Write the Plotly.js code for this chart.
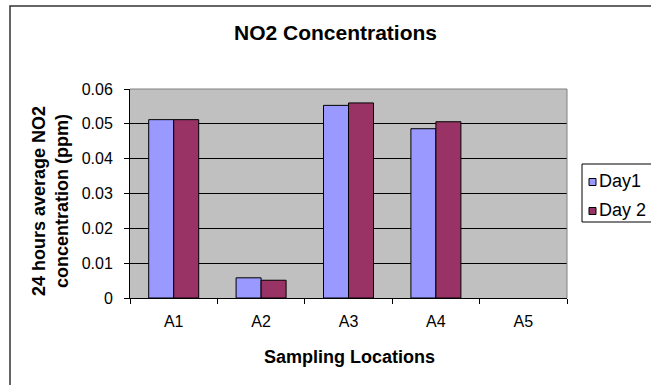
<!DOCTYPE html>
<html>
<head>
<meta charset="utf-8">
<script src="https://cdn.plot.ly/plotly-3.0.1.min.js"></script>
<style>
  html, body { margin: 0; padding: 0; background: #ffffff; }
  #chart { width: 651px; height: 385px; }
</style>
</head>
<body>
<div id="chart"></div>
<script>
// ---- data ----
const categories = ["A1", "A2", "A3", "A4", "A5"];
const day1Values = [0.0512, 0.0058, 0.0553, 0.0486, null];
const day2Values = [0.0512, 0.0051, 0.0560, 0.0506, null];
const seriesNames = ["Day1", "Day 2"];
const yTickVals = [0, 0.01, 0.02, 0.03, 0.04, 0.05, 0.06];
const yTickText = ["0", "0.01", "0.02", "0.03", "0.04", "0.05", "0.06"];

const chartTitle = "NO2 Concentrations";
const xTitle = "Sampling Locations";
const yTitle = "24 hours average NO2<br>concentration (ppm)";

// ---- styles ----
const colors = ["#9999FF", "#993366"];
const FONT = "Liberation Sans, Arial, Helvetica, sans-serif";

// plot area geometry (pixels)
const W = 651, H = 385;
const L = 130, R = 567, T = 89, B = 298;
const px = x => (x - L) / (R - L);
const py = y => (B - y) / (B - T);

const traces = [
  {
    type: "bar", name: seriesNames[0], x: categories, y: day1Values,
    marker: { color: colors[0], line: { color: "#000000", width: 1 } },
    showlegend: false, hoverinfo: "x+y"
  },
  {
    type: "bar", name: seriesNames[1], x: categories, y: day2Values,
    marker: { color: colors[1], line: { color: "#000000", width: 1 } },
    showlegend: false, hoverinfo: "x+y"
  }
];

const shapes = [
  // outer chart frame (cropped on right and bottom)
  { type: "rect", xref: "paper", yref: "paper",
    x0: px(10), x1: px(720), y0: py(6), y1: py(430),
    line: { color: "#333333", width: 1.5 }, fillcolor: "rgba(0,0,0,0)", layer: "above" },
  // gray plot border: top and right
  { type: "line", xref: "paper", yref: "paper", x0: 0, x1: 1, y0: 1, y1: 1,
    line: { color: "#808080", width: 1 }, layer: "above" },
  { type: "line", xref: "paper", yref: "paper", x0: 1, x1: 1, y0: 0, y1: 1,
    line: { color: "#808080", width: 1 }, layer: "above" },
  // legend box
  { type: "rect", xref: "paper", yref: "paper",
    x0: px(582), x1: px(700), y0: py(164), y1: py(222),
    line: { color: "#000000", width: 1 }, fillcolor: "#ffffff", layer: "above" },
  // legend swatches
  { type: "rect", xref: "paper", yref: "paper",
    x0: px(589), x1: px(596), y0: py(178.5), y1: py(185.5),
    line: { color: "#000000", width: 1 }, fillcolor: colors[0], layer: "above" },
  { type: "rect", xref: "paper", yref: "paper",
    x0: px(589), x1: px(596), y0: py(207.5), y1: py(214.5),
    line: { color: "#000000", width: 1 }, fillcolor: colors[1], layer: "above" }
];

const annotations = [
  { text: "<b>" + chartTitle + "</b>", xref: "paper", yref: "paper",
    x: px(335), y: py(33), xanchor: "center", yanchor: "middle", showarrow: false,
    font: { family: FONT, size: 21, color: "#000000" } },
  { text: "<b>" + xTitle + "</b>", xref: "paper", yref: "paper",
    x: px(349), y: py(357), xanchor: "center", yanchor: "middle", showarrow: false,
    font: { family: FONT, size: 18, color: "#000000" } },
  { text: "<b>" + yTitle + "</b>", xref: "paper", yref: "paper",
    x: px(50), y: py(201), xanchor: "center", yanchor: "middle", showarrow: false,
    textangle: -90,
    font: { family: FONT, size: 18, color: "#000000" } },
  { text: seriesNames[0], xref: "paper", yref: "paper",
    x: px(597), y: py(181), xanchor: "left", yanchor: "middle", showarrow: false,
    font: { family: FONT, size: 18, color: "#000000" } },
  { text: seriesNames[1], xref: "paper", yref: "paper",
    x: px(597), y: py(210), xanchor: "left", yanchor: "middle", showarrow: false,
    font: { family: FONT, size: 18, color: "#000000" } }
];

const layout = {
  width: W, height: H,
  margin: { l: L, r: W - R, t: T, b: H - B, pad: 0 },
  paper_bgcolor: "#ffffff",
  plot_bgcolor: "#C0C0C0",
  barmode: "group",
  bargap: 0.428,
  bargroupgap: 0,
  showlegend: false,
  font: { family: FONT, size: 16, color: "#000000" },
  xaxis: {
    type: "category",
    categoryorder: "array", categoryarray: categories,
    showgrid: false, zeroline: false,
    showline: true, linecolor: "#000000", linewidth: 1,
    ticks: "outside", tickson: "boundaries", ticklen: 5, tickcolor: "#000000", tickwidth: 1,
    ticklabelstandoff: 9,
    tickfont: { family: FONT, size: 16, color: "#000000" },
    fixedrange: true
  },
  yaxis: {
    range: [0, 0.06],
    tickvals: yTickVals, ticktext: yTickText,
    showgrid: true, gridcolor: "#000000", gridwidth: 1,
    zeroline: false,
    showline: true, linecolor: "#000000", linewidth: 1,
    ticks: "outside", ticklen: 5, tickcolor: "#000000", tickwidth: 1,
    ticklabelstandoff: 8,
    tickfont: { family: FONT, size: 16, color: "#000000" },
    fixedrange: true
  },
  shapes: shapes,
  annotations: annotations
};

Plotly.newPlot("chart", traces, layout, { displayModeBar: false, staticPlot: true });
</script>
</body>
</html>
